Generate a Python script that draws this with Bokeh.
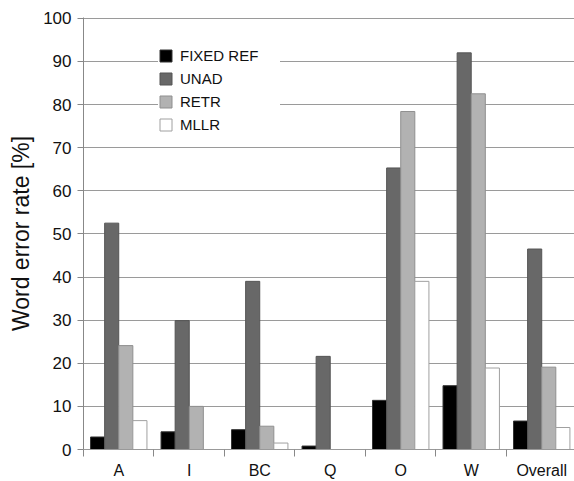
from bokeh.plotting import figure
from bokeh.models import ColumnDataSource, FixedTicker, Range1d, Legend, LegendItem
from bokeh.transform import dodge
from bokeh.embed import file_html
from bokeh.resources import INLINE
import numpy as np

categories = ["A", "I", "BC", "Q", "O", "W", "Overall"]
series_names = ["FIXED REF", "UNAD", "RETR", "MLLR"]
fixed_ref = [2.9, 4.1, 4.6, 0.8, 11.4, 14.8, 6.6]
unad = [52.5, 29.9, 39.0, 21.6, 65.3, 92.0, 46.5]
retr = [24.1, 10.0, 5.4, 0.0, 78.4, 82.5, 19.1]
mllr = [6.7, 0.0, 1.5, 0.0, 39.0, 18.9, 5.1]
y_ticks = list(range(0, 101, 10))

fills = ["#000000", "#686868", "#b2b2b2", "#ffffff"]
lines = ["#333333", "#555555", "#8f8f8f", "#a0a0a0"]
offsets = [-0.3, -0.1, 0.1, 0.3]

FONT = "Liberation Sans"

src = ColumnDataSource(dict(
    center=np.arange(len(categories)) + 0.5,
    fixed_ref=fixed_ref, unad=unad, retr=retr, mllr=mllr,
))

p = figure(width=574, height=481, output_backend="svg", toolbar_location=None,
           x_range=Range1d(0, 6.965), y_range=Range1d(0, 100.2),
           min_border_left=83, min_border_right=0, min_border_top=17,
           min_border_bottom=32)
p.outline_line_color = None
p.background_fill_color = "white"

renderers = []
for key, f, lc, off in zip(["fixed_ref", "unad", "retr", "mllr"], fills, lines, offsets):
    r = p.vbar(x=dodge("center", off, range=p.x_range), top=key, width=0.2,
               bottom=0, source=src, fill_color=f, line_color=lc, line_width=1)
    renderers.append(r)

# axes
p.xgrid.grid_line_color = None
p.ygrid.grid_line_color = "#9a9a9a"
p.ygrid.ticker = FixedTicker(ticks=y_ticks)

p.yaxis.ticker = FixedTicker(ticks=y_ticks)
p.yaxis.axis_line_color = "#888888"
p.yaxis.major_tick_line_color = "#888888"
p.yaxis.major_tick_out = 6
p.yaxis.major_tick_in = 0
p.yaxis.minor_tick_line_color = None
p.yaxis.major_label_standoff = 6
p.yaxis.major_label_text_font = FONT
p.yaxis.major_label_text_font_size = "17px"
p.yaxis.major_label_text_color = "#111111"
p.yaxis.axis_label = "Word error rate [%]"
p.yaxis.axis_label_text_font = FONT
p.yaxis.axis_label_text_font_size = "23px"
p.yaxis.axis_label_text_font_style = "normal"
p.yaxis.axis_label_text_color = "#111111"
p.yaxis.axis_label_standoff = 6

centers = [i + 0.5 for i in range(len(categories))]
bounds = list(range(len(categories) + 1))
p.xaxis.ticker = FixedTicker(ticks=centers, minor_ticks=bounds)
p.xaxis.major_label_overrides = {c: lab for c, lab in zip(centers, categories)}
p.xaxis.axis_line_color = "#999999"
p.xaxis.major_tick_line_color = None
p.xaxis.major_tick_out = 0
p.xaxis.major_tick_in = 0
p.xaxis.minor_tick_line_color = "#888888"
p.xaxis.minor_tick_out = 7
p.xaxis.minor_tick_in = 0
p.xaxis.major_label_standoff = 5
p.xaxis.major_label_text_font = FONT
p.xaxis.major_label_text_font_size = "16px"
p.xaxis.major_label_text_color = "#111111"

legend = Legend(items=[LegendItem(label=n, renderers=[r]) for n, r in zip(series_names, renderers)],
                location=(75, 316), margin=0, padding=10, spacing=6,
                glyph_width=15, glyph_height=15, label_height=15, label_width=100,
                label_standoff=7, label_text_font=FONT, label_text_font_size="15px",
                label_text_color="#111111",
                border_line_color=None, background_fill_color="white",
                background_fill_alpha=1.0)
p.add_layout(legend, "center")

open("out.html", "w").write(file_html(p, INLINE))
